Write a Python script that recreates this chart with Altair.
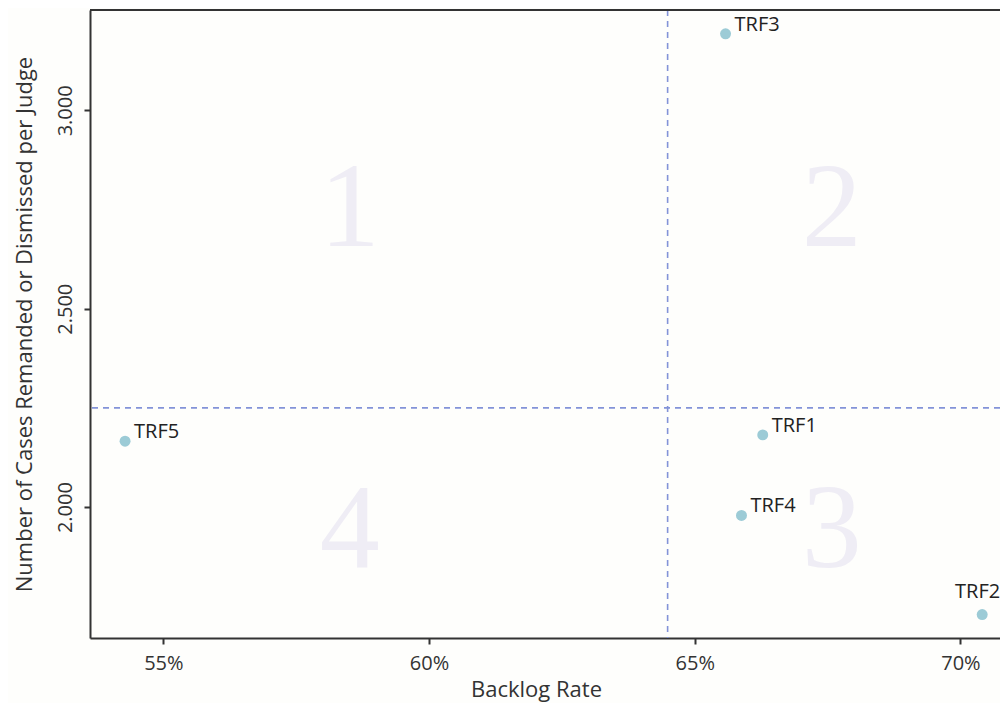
import altair as alt
import pandas as pd

# Data
courts = ["TRF1", "TRF2", "TRF3", "TRF4", "TRF5"]
backlog_rate = [66.28, 70.41, 65.58, 65.88, 54.28]
cases_per_judge = [2182, 1729, 3193, 1979, 2166]

quadrant_labels = ["1", "2", "3", "4"]
quadrant_x = [58.51, 67.58, 67.58, 58.51]
quadrant_y = [2750, 2750, 1939, 1939]

x_split = [64.49]
y_split = [2250]

x_ticks = [55, 60, 65, 70]
y_ticks = [2000, 2500, 3000]

W, H = 910, 628
FONT = "Open Sans"
BG = "#fefefc"

df = pd.DataFrame({"court": courts, "rate": backlog_rate, "cases": cases_per_judge})
qdf = pd.DataFrame({"q": quadrant_labels, "rate": quadrant_x, "cases": quadrant_y})

xscale = alt.Scale(domain=[53.62, 70.745], nice=False, zero=False)
yscale = alt.Scale(domain=[1670, 3253], nice=False, zero=False)

xaxis = alt.Axis(values=x_ticks, labelExpr="datum.value + '%'", grid=False,
                 title="Backlog Rate", titleFont=FONT, titleFontSize=22, titleFontWeight="normal",
                 titleColor="#333", labelFont=FONT, labelFontSize=20, labelColor="#333",
                 tickSize=6, tickColor="#333", tickWidth=2, domainColor="#333", domainWidth=2,
                 labelPadding=9, titleX=446, titleY=58, titleBaseline="alphabetic")
yaxis = alt.Axis(values=y_ticks, labelExpr="replace(format(datum.value, ','), ',', '.')", grid=False,
                 title="Number of Cases Remanded or Dismissed per Judge", titleFont=FONT,
                 titleFontSize=22, titleFontWeight="normal", titleColor="#333",
                 labelFont=FONT, labelFontSize=20, labelColor="#333", labelAngle=270,
                 labelAlign="center", labelBaseline="bottom", labelPadding=9,
                 tickSize=6, tickColor="#333", tickWidth=2, domainColor="#333", domainWidth=2,
                 titleX=-66, titleBaseline="middle")

base = alt.Chart(df)

quad = alt.Chart(qdf).mark_text(font="Liberation Serif", fontSize=120, color="#efedf5",
                                baseline="middle", align="center").encode(
    x=alt.X("rate:Q", scale=xscale, axis=xaxis),
    y=alt.Y("cases:Q", scale=yscale, axis=yaxis),
    text="q:N")

vline = alt.Chart(pd.DataFrame({"rate": x_split})).mark_rule(
    color="#8393d8", strokeDash=[6, 5], strokeWidth=1.6).encode(x=alt.X("rate:Q", scale=xscale))
hline = alt.Chart(pd.DataFrame({"cases": y_split})).mark_rule(
    color="#8393d8", strokeDash=[6, 5], strokeWidth=1.6).encode(y=alt.Y("cases:Q", scale=yscale))

top = alt.Chart(pd.DataFrame({"a": [0]})).mark_rule(color="#333", strokeWidth=2).encode(
    x=alt.value(0), x2=alt.value(W), y=alt.value(0))

points = base.mark_point(filled=True, size=120, color="#9ccbd6", opacity=1).encode(
    x=alt.X("rate:Q", scale=xscale), y=alt.Y("cases:Q", scale=yscale))

labels = base.transform_filter("datum.court != 'TRF2'").mark_text(
    font=FONT, fontSize=20, color="#222", align="left", baseline="alphabetic", dx=9, dy=-3).encode(
    x=alt.X("rate:Q", scale=xscale), y=alt.Y("cases:Q", scale=yscale), text="court:N")

label2 = base.transform_filter("datum.court == 'TRF2'").mark_text(
    font=FONT, fontSize=20, color="#222", align="right", baseline="alphabetic", dx=18, dy=-17).encode(
    x=alt.X("rate:Q", scale=xscale), y=alt.Y("cases:Q", scale=yscale), text="court:N")

chart = alt.layer(quad, vline, hline, top, points, labels, label2).properties(
    width=W, height=H,
    autosize=alt.AutoSizeParams(type="none"),
    padding={"left": 82, "top": 2, "right": 0, "bottom": 65},
    background=BG,
).configure_view(stroke=None, fill=BG)

chart.save("out.html", embed_options={"renderer": "svg", "actions": False})
